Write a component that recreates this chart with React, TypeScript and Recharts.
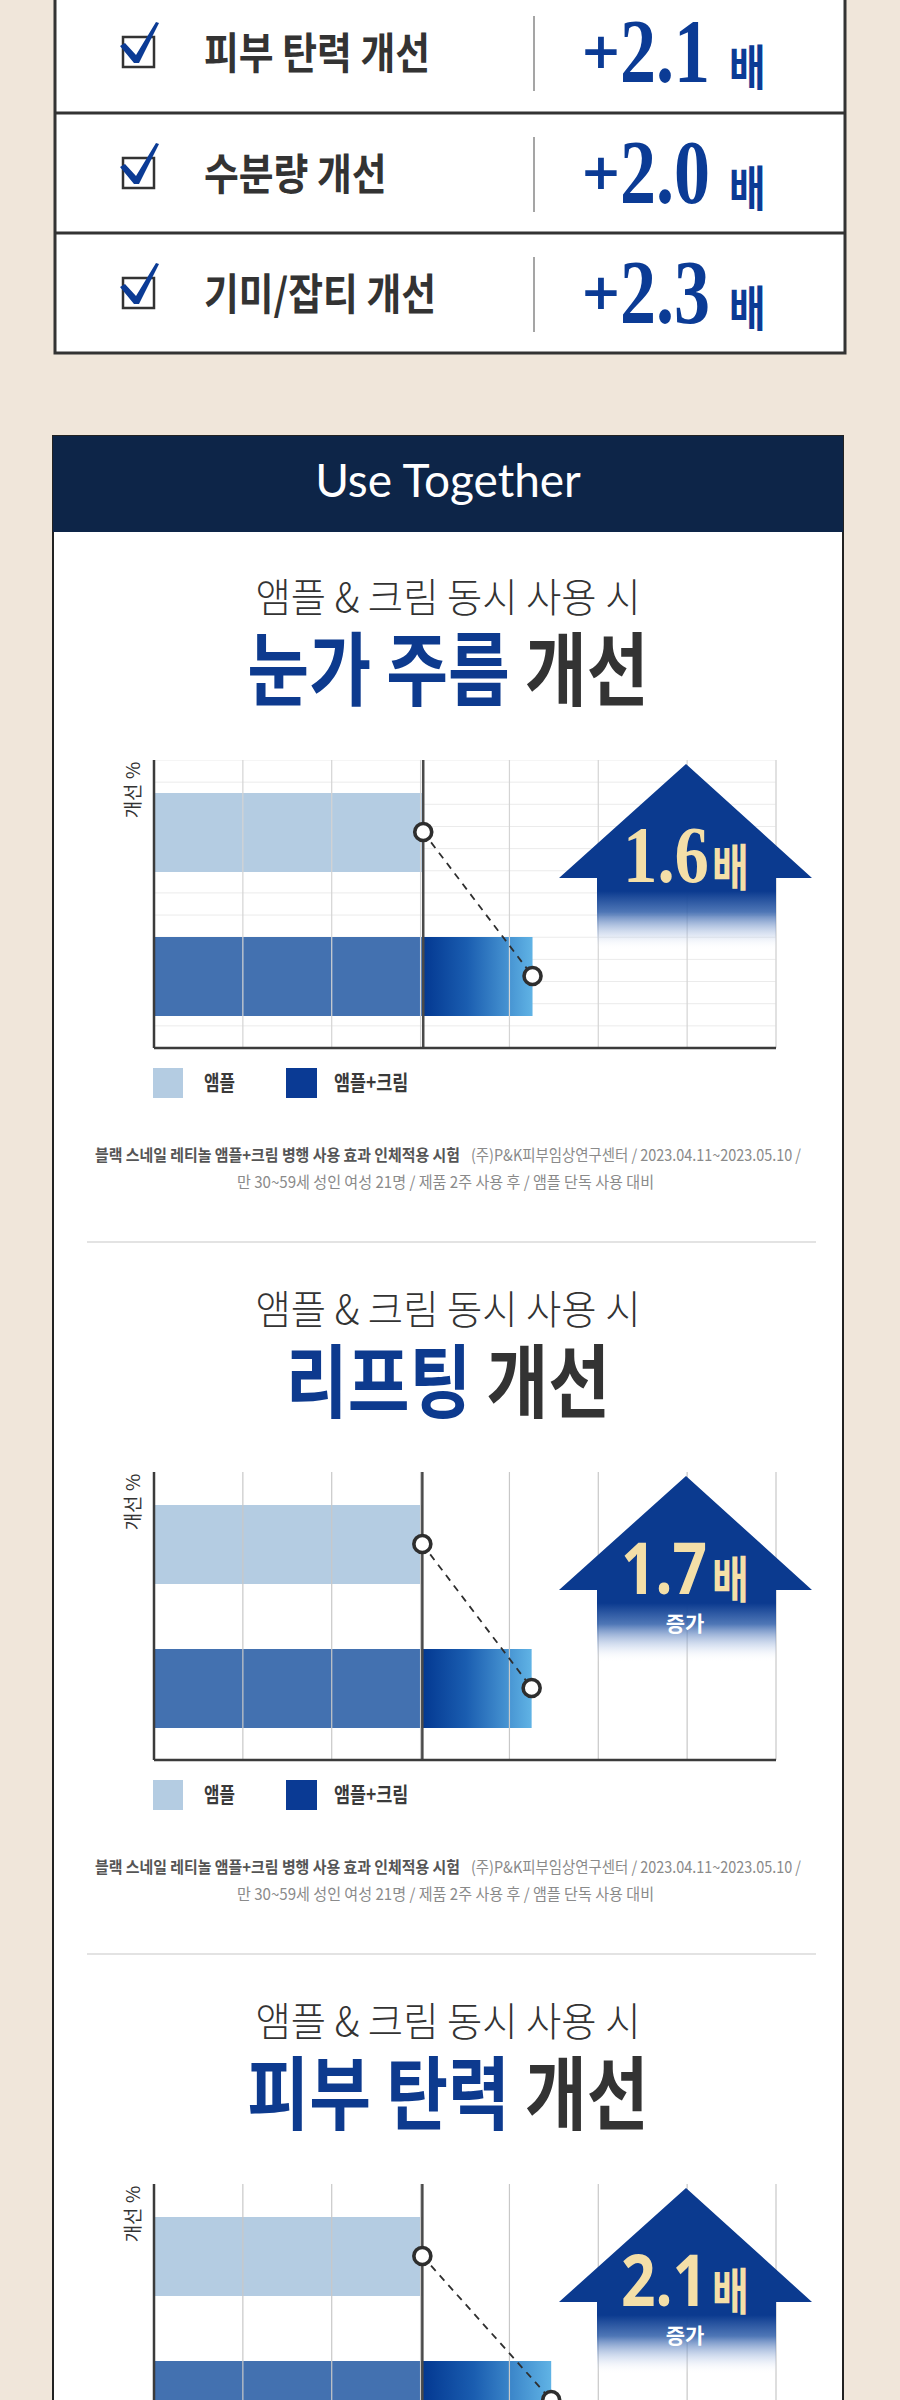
import React from 'react';
import {
  ComposedChart,
  Bar,
  Line,
  XAxis,
  YAxis,
  CartesianGrid,
  ReferenceLine,
  Cell,
} from 'recharts';

// 상단 요약표
const summaryLabels = ['피부 탄력 개선', '수분량 개선', '기미/잡티 개선'];
const summaryValues = ['2.1', '2.0', '2.3'];

// 차트 섹션 (눈가 주름 / 리프팅 / 피부 탄력)
const sectionSubtitle = '앰플 & 크림 동시 사용 시';
const sectionHighlights = ['눈가 주름', '리프팅', '피부 탄력'];
const seriesNames = ['앰플', '앰플+크림'];
const ampouleValues = [3.03, 3.02, 3.02];
const comboValues = [4.26, 4.25, 4.47];
const ratioLabels = ['1.6', '1.7', '2.1'];
const showIncrease = [false, true, true];
const majorTicks = [0, 1, 2, 3, 4, 5, 6, 7];
const minorTicks = [
  0, 0.25, 0.5, 0.75, 1, 1.25, 1.5, 1.75, 2, 2.25, 2.5, 2.75, 3, 3.25, 3.5,
  3.75, 4, 4.25, 4.5, 4.75, 5, 5.25, 5.5, 5.75, 6, 6.25, 6.5, 6.75, 7,
];
const footnoteBold = '블랙 스네일 레티놀 앰플+크림 병행 사용 효과 인체적용 시험';
const footnoteRest = '(주)P&K피부임상연구센터 / 2023.04.11~2023.05.10 /';
const footnoteLine2 = '만 30~59세 성인 여성 21명 / 제품 2주 사용 후 / 앰플 단독 사용 대비';

const KR = '"Noto Sans CJK KR", "Noto Sans", sans-serif';
const BG = '#f0e6da';
const BLUE = '#0b3b95';
const NAVY = '#0d2548';
const INK = '#333333';
const LIGHT_BAR = '#b4cce2';
const MID_BAR = '#4371b0';
const SECTION_STEP = 712;

// 흰 원형 마커
const RingDot = (props: any) => {
  const { cx, cy, index } = props;
  if (cx == null || cy == null) return <g key={`d${index}`} />;
  return (
    <circle
      key={`d${index}`}
      cx={cx}
      cy={cy}
      r={8.5}
      fill="#fff"
      stroke="#2e2e2e"
      strokeWidth={3.6}
    />
  );
};

function GainChart({ idx }: { idx: number }) {
  const data = [
    { name: seriesNames[0], base: ampouleValues[idx], extra: 0, total: ampouleValues[idx] },
    {
      name: seriesNames[1],
      base: ampouleValues[idx],
      extra: comboValues[idx] - ampouleValues[idx],
      total: comboValues[idx],
    },
  ];
  const fine = idx === 0;
  const gid = `gainFill${idx}`;
  return (
    <ComposedChart
      layout="vertical"
      width={627}
      height={291}
      data={data}
      margin={{ top: 0, right: 2, bottom: 0, left: 3 }}
    >
      <defs>
        <linearGradient id={gid} x1="0" y1="0" x2="1" y2="0">
          <stop offset="0%" stopColor="#033891" />
          <stop offset="40%" stopColor="#1a5db0" />
          <stop offset="100%" stopColor="#60b3e5" />
        </linearGradient>
      </defs>
      {fine && (
        <CartesianGrid
          stroke="#ebebeb"
          strokeWidth={1}
          horizontalCoordinatesGenerator={({ offset }: any) =>
            Array.from({ length: 14 }, (_, k) => offset.top + (k * offset.height) / 13)
          }
        />
      )}
      <XAxis
        type="number"
        domain={[0, 7]}
        ticks={fine ? minorTicks : majorTicks}
        tick={false}
        tickLine={false}
        axisLine={{ stroke: '#3b3b3b', strokeWidth: 2.5 }}
        height={3}
      />
      <YAxis type="category" dataKey="name" hide />
      {majorTicks.slice(1).map((t) => (
        <ReferenceLine key={t} x={t} stroke={fine ? '#d4d4d4' : '#c8c8c8'} strokeWidth={1.2} />
      ))}
      <Bar dataKey="base" stackId="s" barSize={79} isAnimationActive={false}>
        {data.map((d, k) => (
          <Cell key={d.name} fill={k === 0 ? LIGHT_BAR : MID_BAR} />
        ))}
      </Bar>
      <Bar dataKey="extra" stackId="s" barSize={79} fill={`url(#${gid})`} isAnimationActive={false} />
      <ReferenceLine x={0} stroke="#3b3b3b" strokeWidth={2.5} />
      <ReferenceLine x={ampouleValues[idx]} stroke="#4a4a4a" strokeWidth={2.5} />
      <Line
        dataKey="total"
        type="linear"
        stroke="#2e2e2e"
        strokeWidth={1.8}
        strokeDasharray="7 6"
        dot={RingDot}
        activeDot={false}
        isAnimationActive={false}
      />
    </ComposedChart>
  );
}

function GainArrow({ idx, top }: { idx: number; top: number }) {
  const gid = `arrowFade${idx}`;
  const serif = idx === 0;
  return (
    <svg
      width={262}
      height={200}
      style={{ position: 'absolute', left: 555, top, overflow: 'visible' }}
    >
      <defs>
        <linearGradient id={gid} x1="0" y1="0" x2="0" y2="190" gradientUnits="userSpaceOnUse">
          <stop offset="0" stopColor="#0b3a8f" />
          <stop offset="0.69" stopColor="#0b3a8f" />
          <stop offset="0.8" stopColor="#2f5ea9" stopOpacity="0.85" />
          <stop offset="0.92" stopColor="#a3b9df" stopOpacity="0.35" />
          <stop offset="1" stopColor="#ffffff" stopOpacity="0" />
        </linearGradient>
      </defs>
      <polygon
        points="131,4 4,118 42,118 42,190 221,190 221,118 257,118"
        fill={`url(#${gid})`}
      />
      <g transform={`translate(${serif ? 68 : 66}, 122) scale(${serif ? 0.86 : 0.84}, 1)`}>
        <text
          x={0}
          y={0}
          fontSize={serif ? 80 : 72}
          fontWeight={700}
          fontFamily={serif ? '"Liberation Serif", serif' : '"Noto Sans", sans-serif'}
          fill="#f4dfa8"
        >
          {ratioLabels[idx]}
        </text>
      </g>
      <g transform="translate(157, 126) scale(0.8, 1)">
        <text x={0} y={0} fontSize={50} fontWeight={700} fontFamily={KR} fill="#f4dfa8">
          배
        </text>
      </g>
      {showIncrease[idx] && (
        <text
          x={130}
          y={159}
          textAnchor="middle"
          fontSize={21}
          fontWeight={700}
          fontFamily={KR}
          fill="#ffffff"
        >
          증가
        </text>
      )}
    </svg>
  );
}

function SummaryRow({ i }: { i: number }) {
  const c = [52, 173, 293][i];
  return (
    <g>
      <rect x={123} y={c - 15} width={31} height={30} fill="#fff" stroke={INK} strokeWidth={2.5} />
      <polygon
        points={`120,${c - 6} 125,${c - 9} 136,${c + 3} 156,${c - 30} 159,${c - 29} 139,${c + 11} 134,${c + 11}`}
        fill={BLUE}
      />
      <g transform={`translate(204, ${c + 17}) scale(0.88, 1)`}>
        <text x={0} y={0} fontSize={43} fontWeight={700} fontFamily={KR} fill={INK}>
          {summaryLabels[i]}
        </text>
      </g>
      <line x1={534} y1={c - 36} x2={534} y2={c + 39} stroke="#a5a5a5" strokeWidth={2} />
      <text
        x={580}
        y={c + 16}
        fontSize={50}
        fontWeight={700}
        fontFamily='"DejaVu Sans", sans-serif'
        fill={BLUE}
      >
        +
      </text>
      <g transform={`translate(620, ${c + 30}) scale(0.8, 1)`}>
        <text
          x={0}
          y={0}
          fontSize={90}
          fontWeight={700}
          fontFamily='"Liberation Serif", serif'
          fill={BLUE}
        >
          {summaryValues[i]}
        </text>
      </g>
      <g transform={`translate(729, ${c + 33}) scale(0.83, 1)`}>
        <text x={0} y={0} fontSize={48} fontWeight={700} fontFamily={KR} fill={BLUE}>
          배
        </text>
      </g>
    </g>
  );
}

function SectionText({ i }: { i: number }) {
  const off = i * SECTION_STEP;
  return (
    <g>
      <g transform={`translate(448, ${612 + off}) scale(0.96, 1)`}>
        <text x={0} y={0} textAnchor="middle" fontSize={40} fontWeight={300} fontFamily={KR} fill={INK}>
          {sectionSubtitle}
        </text>
      </g>
      <g transform={`translate(448, ${699 + off}) scale(0.84, 1)`}>
        <text x={0} y={0} textAnchor="middle" fontSize={80} fontWeight={700} fontFamily={KR}>
          <tspan fill="#0d3a8e">{sectionHighlights[i]}</tspan>
          <tspan fill={INK}> 개선</tspan>
        </text>
      </g>
      <text
        transform={`translate(140, ${790 + off}) rotate(-90)`}
        textAnchor="middle"
        fontSize={19}
        fontFamily={KR}
        fill={INK}
      >
        개선 %
      </text>
      {/* legend */}
      <rect x={153} y={1068 + off} width={30} height={30} fill={LIGHT_BAR} />
      <g transform={`translate(204, ${1090 + off}) scale(0.8, 1)`}>
        <text x={0} y={0} fontSize={21} fontWeight={700} fontFamily={KR} fill="#3a3a3a">
          {seriesNames[0]}
        </text>
      </g>
      <rect x={286} y={1068 + off} width={31} height={30} fill="#0a3a94" />
      <g transform={`translate(334, ${1090 + off}) scale(0.83, 1)`}>
        <text x={0} y={0} fontSize={21} fontWeight={700} fontFamily={KR} fill="#3a3a3a">
          {seriesNames[1]}
        </text>
      </g>
      {/* footnote */}
      <text
        x={95}
        y={1161 + off}
        fontSize={16}
        fontWeight={700}
        fontFamily={KR}
        fill="#555"
        textLength={365}
        lengthAdjust="spacingAndGlyphs"
      >
        {footnoteBold}
      </text>
      <text
        x={471}
        y={1161 + off}
        fontSize={16}
        fontFamily={KR}
        fill="#8a8a8a"
        textLength={330}
        lengthAdjust="spacingAndGlyphs"
      >
        {footnoteRest}
      </text>
      <text
        x={237}
        y={1188 + off}
        fontSize={16}
        fontFamily={KR}
        fill="#8a8a8a"
        textLength={417}
        lengthAdjust="spacingAndGlyphs"
      >
        {footnoteLine2}
      </text>
      <line x1={87} y1={1242 + off} x2={816} y2={1242 + off} stroke="#e3e3e3" strokeWidth={2} />
    </g>
  );
}

export default function App() {
  const sections = [0, 1, 2];
  return (
    <div
      style={{
        position: 'absolute',
        left: 0,
        top: 0,
        width: 900,
        height: 2400,
        overflow: 'hidden',
        background: BG,
      }}
    >
      <svg width={900} height={2400} style={{ position: 'absolute', left: 0, top: 0 }}>
        {/* summary table */}
        <rect x={55} y={-10} width={790} height={363} fill="#fff" stroke={INK} strokeWidth={3} />
        <line x1={55} y1={113} x2={845} y2={113} stroke={INK} strokeWidth={3} />
        <line x1={55} y1={233} x2={845} y2={233} stroke={INK} strokeWidth={3} />
        {summaryLabels.map((_, i) => (
          <SummaryRow key={i} i={i} />
        ))}

        {/* Use Together card */}
        <rect x={53} y={436} width={790} height={2100} fill="#fff" stroke="#222" strokeWidth={2} />
        <rect x={53} y={436} width={790} height={96} fill={NAVY} />
        <text
          x={448}
          y={497}
          textAnchor="middle"
          fontSize={46}
          fontFamily='Lato, "Noto Sans", sans-serif'
          fill="#fff"
        >
          Use Together
        </text>
        {sections.map((i) => (
          <SectionText key={i} i={i} />
        ))}
      </svg>

      {sections.map((i) => (
        <div
          key={`chart${i}`}
          style={{ position: 'absolute', left: 151, top: 760 + i * SECTION_STEP, width: 627, height: 291 }}
        >
          <GainChart idx={i} />
        </div>
      ))}
      {sections.map((i) => (
        <GainArrow key={`arrow${i}`} idx={i} top={760 + i * SECTION_STEP} />
      ))}
    </div>
  );
}
